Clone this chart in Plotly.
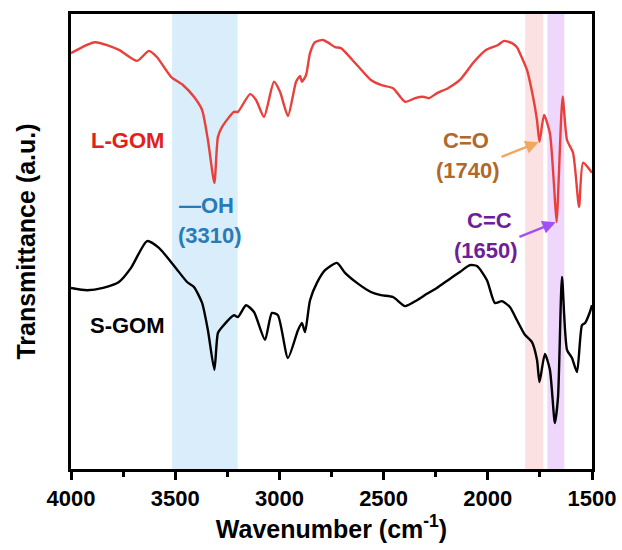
import plotly.graph_objects as go

# ---- data (wavenumber in cm-1, transmittance in a.u.) ----
l_gom_wn = [4000, 3885, 3770, 3683, 3626, 3587, 3520, 3463, 3410, 3371, 3343, 3312, 3295, 3275,
            3218, 3199, 3141, 3112, 3074, 3026, 2997, 2959, 2920, 2901, 2892, 2872, 2853, 2829,
            2791, 2762, 2733, 2705, 2628, 2561, 2513, 2455, 2397, 2349, 2311, 2282, 2244, 2191,
            2134, 2066, 2009, 1951, 1922, 1884, 1860, 1846, 1812, 1783, 1764, 1752, 1730, 1702,
            1683, 1670, 1641, 1620, 1591, 1562, 1543, 1500]
l_gom_t = [91.4, 93.8, 92.1, 89.7, 91.9, 90.5, 86.2, 84.4, 81.8, 78.9, 72.3, 62.9, 73.0, 75.2,
           78.5, 78.5, 82.4, 81.1, 77.4, 85.1, 82.9, 77.6, 85.1, 86.4, 85.1, 86.6, 91.4, 93.8,
           94.3, 93.6, 92.7, 92.5, 88.8, 85.5, 84.4, 83.7, 80.7, 81.5, 81.8, 81.5, 82.6, 83.7,
           85.5, 89.5, 92.1, 93.2, 94.1, 93.6, 92.7, 91.4, 87.7, 81.8, 76.7, 71.9, 77.8, 73.8,
           62.9, 54.3, 81.8, 72.3, 69.5, 57.6, 67.3, 65.1]

s_gom_wn = [4000, 3923, 3846, 3770, 3712, 3635, 3578, 3501, 3443, 3410, 3371, 3343, 3312, 3295,
            3275, 3218, 3199, 3160, 3122, 3069, 3036, 3007, 2959, 2911, 2892, 2877, 2853, 2820,
            2781, 2724, 2685, 2628, 2561, 2513, 2455, 2397, 2340, 2292, 2244, 2191, 2134, 2086,
            2052, 2004, 1966, 1932, 1894, 1860, 1822, 1788, 1764, 1752, 1726, 1702, 1678, 1663,
            1644, 1620, 1596, 1572, 1548, 1533, 1510, 1500]
s_gom_t = [39.8, 39.3, 39.8, 41.1, 44.2, 50.1, 48.6, 44.4, 41.1, 40.0, 36.5, 30.5, 21.8, 29.9,
           31.2, 33.8, 33.4, 36.0, 34.5, 28.4, 34.3, 33.8, 24.4, 30.5, 32.1, 30.1, 37.1, 40.9,
           43.7, 45.3, 43.1, 40.9, 38.9, 38.2, 37.8, 35.8, 37.1, 38.5, 39.8, 41.5, 43.3, 44.8,
           44.6, 41.5, 36.5, 36.9, 35.6, 32.7, 29.5, 27.9, 24.0, 19.1, 25.3, 21.8, 10.1, 15.8,
           42.2, 26.2, 24.4, 21.3, 31.6, 32.1, 34.5, 36.0]

bands = [(3515, 3200, "rgba(170,218,245,0.45)"),
         (1821, 1734, "rgba(248,195,195,0.5)"),
         (1714, 1633, "rgba(226,180,250,0.55)")]

tick_vals = [4000, 3500, 3000, 2500, 2000, 1500]
tick_text = ["4000", "3500", "3000", "2500", "2000", "1500"]

FONT = "Arial, Liberation Sans, sans-serif"
ANN = 22

fig = go.Figure()

for x0, x1, col in bands:
    fig.add_shape(type="rect", xref="x", yref="paper", x0=x0, x1=x1, y0=0, y1=1,
                  fillcolor=col, line_width=0, layer="below")

fig.add_trace(go.Scatter(x=l_gom_wn, y=l_gom_t, mode="lines", name="L-GOM",
                         line=dict(color="#E8413C", width=2.4, shape="spline", smoothing=0.6)))
fig.add_trace(go.Scatter(x=s_gom_wn, y=s_gom_t, mode="lines", name="S-GOM",
                         line=dict(color="#000000", width=2.4, shape="spline", smoothing=0.6)))

# arrow tips from data: C=O dip and C=C minimum of L-GOM
co_idx = l_gom_wn.index(1752)
cc_idx = l_gom_wn.index(1670)

def txt(x, y, s, color, size=ANN):
    fig.add_annotation(x=x, y=y, xref="x", yref="y", text=f"<b>{s}</b>", showarrow=False,
                       font=dict(family=FONT, size=size, color=color))

txt(3731, 72.3, "L-GOM", "#E3201B")
txt(3731, 31.6, "S-GOM", "#000000")
txt(3352, 58.0, "—OH", "#2A7AB8")
txt(3335, 51.4, "(3310)", "#2A7AB8")
txt(2105, 72.3, "C=O", "#B0692A")
txt(1990, 54.7, "C=C", "#6F1E9A")

fig.add_annotation(x=l_gom_wn[co_idx], y=l_gom_t[co_idx], ax=2095, ay=65.7,
                   xref="x", yref="y", axref="x", ayref="y", text="<b>(1740)</b>",
                   font=dict(family=FONT, size=ANN, color="#B0692A"), showarrow=True,
                   arrowhead=2, arrowsize=1.1, arrowwidth=2.4, arrowcolor="#F2A65E",
                   standoff=1)
fig.add_annotation(x=l_gom_wn[cc_idx], y=l_gom_t[cc_idx], ax=2009, ay=48.1,
                   xref="x", yref="y", axref="x", ayref="y", text="<b>(1650)</b>",
                   font=dict(family=FONT, size=ANN, color="#6F1E9A"), showarrow=True,
                   arrowhead=2, arrowsize=1.1, arrowwidth=2.4, arrowcolor="#A050F5",
                   standoff=1)

fig.update_layout(
    width=622, height=550,
    margin=dict(l=71, r=30, t=14, b=81, autoexpand=False),
    paper_bgcolor="white", plot_bgcolor="white",
    showlegend=False,
    font=dict(family=FONT, color="black"),
)
fig.update_xaxes(range=[4000, 1500], showgrid=False, zeroline=False, automargin=False,
                 showline=True, linecolor="black", linewidth=2.6, mirror=True,
                 ticks="outside", ticklen=8, tickwidth=2.6, tickcolor="black",
                 tickvals=tick_vals, ticktext=[f"<b>{t}</b>" for t in tick_text],
                 tickfont=dict(family=FONT, size=22, color="black"),
                 minor=dict(tickvals=[3750, 3250, 2750, 2250, 1750], ticks="outside",
                            ticklen=5, tickwidth=2.6, tickcolor="black"),
                 title=dict(text="<b>Wavenumber (cm<sup>-1</sup>)</b>",
                            font=dict(family=FONT, size=25, color="black"), standoff=4))
fig.update_yaxes(range=[0, 100], showgrid=False, zeroline=False, automargin=False,
                 showline=True, linecolor="black", linewidth=2.6, mirror=True,
                 showticklabels=False, ticks="",
                 title=dict(text="<b>Transmittance (a.u.)</b>",
                            font=dict(family=FONT, size=25, color="black"), standoff=26))

fig.write_html("out.html")
